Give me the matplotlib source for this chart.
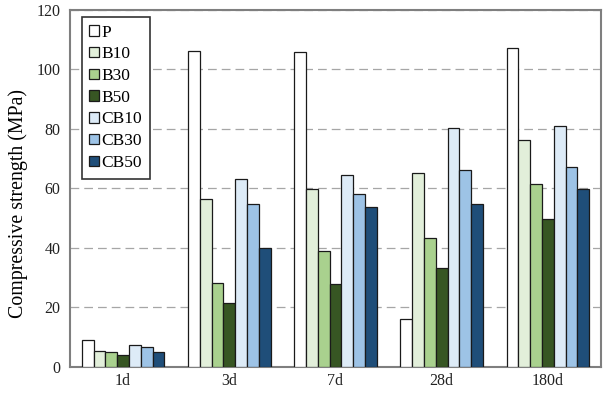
import numpy as np
import matplotlib.pyplot as plt

plt.rcParams['font.family'] = ['Liberation Serif', 'DejaVu Serif']

ages = ['1d', '3d', '7d', '28d', '180d']
mixes = ['P', 'B10', 'B30', 'B50', 'CB10', 'CB30', 'CB50']
colors = ['#ffffff', '#e2efda', '#a9d18e', '#375623', '#ddebf7', '#9dc3e6', '#1f4e79']

# compressive strength (MPa) for each mix at each age
P = [8.8, 106.1, 105.9, 15.9, 107.1]
B10 = [5.2, 56.3, 59.9, 65.2, 76.3]
B30 = [4.8, 28.1, 39.0, 43.2, 61.4]
B50 = [3.9, 21.5, 27.8, 33.3, 49.5]
CB10 = [7.3, 63.2, 64.3, 80.3, 80.8]
CB30 = [6.7, 54.8, 58.2, 66.2, 67.0]
CB50 = [4.9, 40.0, 53.8, 54.7, 59.7]
series = [P, B10, B30, B50, CB10, CB30, CB50]

fig = plt.figure(figsize=(6.07, 3.97), dpi=100)
ax = fig.add_axes([0.1153, 0.0768, 0.8747, 0.8982])

x = np.arange(len(ages))
w = 1 / 9
for i, (name, vals) in enumerate(zip(mixes, series)):
    ax.bar(x + (i - 3) * w, vals, w, color=colors[i], edgecolor='#1a1a1a',
           linewidth=0.9, label=name, zorder=3)

ax.set_xlim(-0.5, len(ages) - 0.5)
ax.set_ylim(0, 120)
ax.set_yticks(range(0, 121, 20))
ax.set_xticks(x)
ax.set_xticklabels(ages)
ax.tick_params(length=0, labelsize=11.5, colors='#222222')
ax.tick_params(axis='y', pad=7)
ax.tick_params(axis='x', pad=5)
ax.yaxis.grid(True, linestyle=(0, (7, 4)), color='#a6a6a6', linewidth=0.9)
ax.set_axisbelow(True)
for s in ax.spines.values():
    s.set_color('#7f7f7f')
    s.set_linewidth(1.5)
ax.set_ylabel('Compressive strength (MPa)', fontsize=14.3)
ax.yaxis.set_label_coords(-0.079, 0.456)

leg = ax.legend(loc='upper left', bbox_to_anchor=(0.022, 0.981), fontsize=12.5,
                fancybox=False, edgecolor='#333333', framealpha=1,
                borderaxespad=0, handlelength=0.55, handleheight=0.55,
                handletextpad=0.15, labelspacing=0.33, borderpad=0.45)
leg.get_frame().set_linewidth(1.2)

fig.savefig('out.png', dpi=100)
